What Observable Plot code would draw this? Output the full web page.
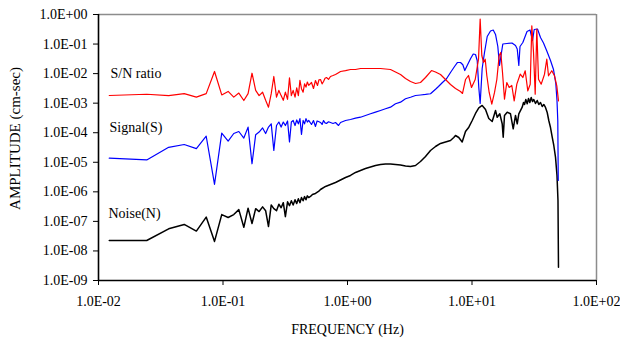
<!DOCTYPE html>
<html><head><meta charset="utf-8">
<script src="https://cdn.jsdelivr.net/npm/d3@7"></script>
<script src="https://cdn.jsdelivr.net/npm/@observablehq/plot@0.6"></script>
<style>
body{margin:0;background:#fff}
svg, svg text{font-family:"Liberation Serif","DejaVu Serif",serif !important;}
</style>
</head><body><div id="chart"></div>
<script>
// Low-frequency FFT grid (Hz)
const gridFreq = [0.0122,0.0244,0.0366,0.0488,0.0611,0.0733,0.0855,0.0977,0.110,0.122,0.134,0.147,0.159,0.171,0.183,0.195,0.208,0.220,0.232,0.244,0.256,0.269,0.281,0.293,0.305,0.317,0.330,0.342,0.354,0.366,0.379,0.391,0.403,0.415,0.427,0.440,0.452,0.464,0.476,0.488];
const snGrid = [1.82e-3,2.0e-3,1.8e-3,2.1e-3,1.6e-3,2.1e-3,1.18e-2,1.9e-3,2.5e-3,1.6e-3,2.2e-3,1.23e-3,2.1e-3,1.03e-2,2.7e-3,1.8e-3,2.35e-3,1.25e-3,7.3e-4,2.1e-3,8.0e-3,1.6e-3,2.7e-3,1.8e-3,1.25e-3,2.35e-3,1.35e-3,7.2e-3,1.8e-3,2.7e-3,1.6e-3,3.3e-3,1.8e-3,5.9e-3,3.1e-3,2.35e-3,4.5e-3,3.5e-3,5.2e-3,4.0e-3];
const sigGrid = [1.38e-5,1.2e-5,3.2e-5,4.0e-5,2.9e-5,7.6e-5,1.8e-6,9.7e-5,5.2e-5,9.4e-5,1.1e-4,6.6e-5,1.55e-4,8.9e-6,8.6e-5,1.05e-4,1.45e-4,9.4e-5,1.55e-4,2.0e-4,2.5e-5,1.75e-4,2.3e-4,1.55e-4,2.3e-4,1.75e-4,2.5e-4,4.9e-5,2.3e-4,2.6e-4,1.75e-4,2.7e-4,2.0e-4,3.0e-4,8.8e-5,2.6e-4,2.0e-4,3.0e-4,2.3e-4,2.6e-4];
const noiseGrid = [2.26e-8,2.26e-8,5.6e-8,7.9e-8,4.7e-8,1.4e-7,2.1e-8,1.7e-7,1.35e-7,1.7e-7,2.5e-7,6.3e-8,2.8e-7,8.5e-8,2.7e-7,2.15e-7,3.1e-7,2.3e-7,6.7e-8,3.6e-7,2.7e-7,2.3e-7,3.8e-7,2.9e-7,4.3e-7,1.45e-7,4.6e-7,3.4e-7,5.0e-7,3.6e-7,5.4e-7,4.0e-7,5.8e-7,4.3e-7,6.4e-7,5.0e-7,6.9e-7,5.4e-7,7.3e-7,6.4e-7];

// Higher-frequency part
const snTailFreq = [0.514,0.533,0.553,0.574,0.590,0.607,0.625,0.642,0.660,0.678,0.704,0.730,0.765,0.801,0.840,0.879,0.964,1.057,1.160,1.272,1.395,1.530,1.679,1.841,2.020,2.215,2.430,2.666,2.924,3.207,3.518,3.858,4.232,4.728,5.092,5.585,6.126,6.719,7.371,8.085,8.39,8.868,9.37,9.91,10.61,11.28,11.63,11.99,12.37,12.77,13.15,13.74,14.42,15.17,15.83,16.53,17.03,17.58,18.24,19.03,19.89,20.88,21.82,22.91,24.39,25.60,26.75,28.07,29.35,30.23,31.20,32.18,33.15,34.21,35.97,38.23,39.89,41.16,43.75,45.99,47.99,49.5];
const snTailAmp = [0.00501,0.00314,0.00585,0.00396,0.00620,0.00632,0.00450,0.00541,0.00700,0.00739,0.00640,0.00799,0.00860,0.00934,0.0105,0.0118,0.0127,0.0138,0.0138,0.0149,0.0149,0.0149,0.0149,0.0149,0.0143,0.0138,0.0113,0.00934,0.00684,0.00541,0.00463,0.00501,0.00739,0.0127,0.0113,0.00934,0.00632,0.00428,0.00314,0.00248,0.00213,0.00632,0.00864,0.00339,0.00632,0.0307,0.704,0.0410,0.0238,0.0307,0.00864,0.00230,0.000923,0.00230,0.00632,0.0410,0.0518,0.0109,0.00136,0.00501,0.00339,0.00396,0.00120,0.00439,0.00956,0.00739,0.0125,0.00262,0.00439,0.415,0.0518,0.00201,0.318,0.00648,0.00439,0.00956,0.0307,0.00844,0.0125,0.00844,0.00387,0.00120];

const sigTailFreq = [0.514,0.533,0.553,0.570,0.585,0.607,0.625,0.642,0.660,0.678,0.704,0.730,0.765,0.801,0.847,0.879,0.964,1.057,1.160,1.272,1.395,1.530,1.679,1.841,2.020,2.215,2.430,2.666,2.924,3.207,3.518,3.858,4.232,4.642,5.148,5.38,5.79,6.24,6.719,7.24,7.65,8.085,8.44,8.75,9.15,9.727,10.23,10.67,11.01,11.34,11.63,12.07,12.60,13.25,14.08,14.81,15.45,16.12,16.63,17.10,17.68,19.10,20.95,22.36,23.08,23.77,24.30,25.60,27.66,29.24,30.62,31.59,33.58,35.50,37.53,40.04,42.71,45.15,47.11,48.16,48.87,49.3];
const sigTailAmp = [0.000190,0.000259,0.000163,0.000250,0.000240,0.000222,0.000190,0.000259,0.000215,0.000205,0.000235,0.000222,0.000205,0.000222,0.000176,0.000222,0.000259,0.000280,0.000310,0.000335,0.000383,0.000437,0.000495,0.000565,0.000645,0.000731,0.000953,0.00108,0.00141,0.00159,0.00182,0.00189,0.00197,0.00208,0.00307,0.00367,0.00501,0.00668,0.0109,0.0174,0.0238,0.0238,0.0199,0.0127,0.0188,0.0317,0.0461,0.0443,0.0278,0.00339,0.000976,0.0149,0.0518,0.180,0.277,0.299,0.211,0.0827,0.0188,0.0410,0.1005,0.1045,0.1086,0.0894,0.0681,0.0188,0.0827,0.113,0.266,0.299,0.132,0.311,0.323,0.1667,0.1086,0.0560,0.0278,0.0138,0.00463,0.00123,0.000259,2.42e-6];

const noiseTailFreq = [0.504,0.523,0.553,0.585,0.607,0.666,0.730,0.801,0.879,0.964,1.057,1.160,1.272,1.395,1.530,1.679,1.841,2.020,2.215,2.430,2.666,2.924,3.207,3.518,3.858,4.232,4.642,5.092,5.585,6.126,6.719,7.14,7.371,7.83,8.34,8.868,9.43,10.04,10.67,11.34,12.07,12.84,13.64,14.53,15.45,15.94,16.72,17.48,17.81,18.24,19.17,20.38,21.43,22.36,23.08,23.77,25.31,25.93,26.41,27.05,27.76,28.44,29.13,29.90,30.62,31.36,32.36,33.40,34.40,35.50,36.64,37.73,38.94,40.19,41.38,42.71,44.08,45.39,46.85,48.16,49.05,49.5];
const noiseTailAmp = [6.97e-7,8.14e-7,8.80e-7,1.03e-6,1.20e-6,1.52e-6,1.77e-6,2.07e-6,2.52e-6,3.06e-6,3.58e-6,4.52e-6,5.28e-6,6.17e-6,6.93e-6,7.79e-6,8.43e-6,8.76e-6,8.76e-6,8.43e-6,8.10e-6,7.49e-6,7.21e-6,7.79e-6,1.06e-5,1.57e-5,2.51e-5,3.42e-5,4.33e-5,4.86e-5,5.46e-5,6.90e-5,8.06e-5,6.90e-5,4.86e-5,1.10e-4,1.54e-4,2.59e-4,4.48e-4,6.98e-4,8.35e-4,6.11e-4,3.03e-4,2.40e-4,5.65e-4,3.35e-4,4.37e-4,2.01e-4,7.07e-5,3.83e-4,4.95e-4,4.37e-4,1.36e-4,3.83e-4,2.01e-4,4.37e-4,7.31e-4,1.05e-3,9.02e-4,1.33e-3,9.53e-4,1.44e-3,1.05e-3,1.56e-3,1.14e-3,1.33e-3,9.76e-4,1.23e-3,9.02e-4,1.05e-3,7.72e-4,9.02e-4,7.14e-4,4.84e-4,2.59e-4,1.50e-4,7.07e-5,3.70e-5,1.49e-5,3.58e-6,5.10e-7,2.83e-9];

const xTicks = [0.01, 0.1, 1, 10, 100];
const yTicks = [1e-9, 1e-8, 1e-7, 1e-6, 1e-5, 1e-4, 1e-3, 1e-2, 1e-1, 1];
const seriesLabels = ["S/N ratio", "Signal(S)", "Noise(N)"];
const labelFreq = [0.01248, 0.01226, 0.01203];
const labelAmp = [1.03e-2, 1.5e-4, 1.9e-7];
const xTitle = "FREQUENCY (Hz)";
const yTitle = "AMPLITUDE (cm-sec)";

const rows = (f, a) => f.map((x, i) => ({f: x, a: a[i]}));
const sn = rows(gridFreq.concat(snTailFreq), snGrid.concat(snTailAmp));
const sig = rows(gridFreq.concat(sigTailFreq), sigGrid.concat(sigTailAmp));
const noise = rows(gridFreq.concat(noiseTailFreq), noiseGrid.concat(noiseTailAmp));
const labels = seriesLabels.map((t, i) => ({t, f: labelFreq[i], a: labelAmp[i]}));

const fmt = d => {
  const e = Math.round(Math.log10(d));
  return "1.0E" + (e < 0 ? "-" : "+") + String(Math.abs(e)).padStart(2, "0");
};
const serif = "Liberation Serif, DejaVu Serif, serif";

const chart = Plot.plot({
  width: 620, height: 344,
  marginLeft: 98, marginRight: 24, marginTop: 14, marginBottom: 64,
  style: {fontFamily: serif, fontSize: "14px", background: "#fff", color: "#000"},
  x: {type: "log", domain: [0.01, 100]},
  y: {type: "log", domain: [1e-9, 1]},
  marks: [
    Plot.axisX({ticks: xTicks, tickFormat: fmt, tickSize: 5, tickPadding: 11, label: null, fontSize: 14, fontFamily: serif}),
    Plot.axisY({ticks: yTicks, tickFormat: fmt, tickSize: 5, tickPadding: 6, label: null, fontSize: 14, fontFamily: serif}),
    Plot.ruleY([1], {stroke: "#8c8c8c", strokeWidth: 1.5}),
    Plot.ruleX([100], {stroke: "#8c8c8c", strokeWidth: 1.5}),
    Plot.ruleX([0.01], {stroke: "#000", strokeWidth: 1.6}),
    Plot.ruleY([1e-9], {stroke: "#000", strokeWidth: 1.6}),
    Plot.line(noise, {x: "f", y: "a", stroke: "#000", strokeWidth: 1.5}),
    Plot.line(sig, {x: "f", y: "a", stroke: "#0000ff", strokeWidth: 1.2}),
    Plot.line(sn, {x: "f", y: "a", stroke: "#ff0000", strokeWidth: 1.2}),
    Plot.text(labels, {x: "f", y: "a", text: "t", textAnchor: "start", fontSize: 14, fontFamily: serif, fill: "#000"}),
    Plot.text([yTitle], {text: d => d, frameAnchor: "left", textAnchor: "middle", rotate: -90, dx: -83, dy: -9, fontSize: 15, fontFamily: serif, fill: "#000"}),
    Plot.text([xTitle], {text: d => d, frameAnchor: "bottom", textAnchor: "middle", dy: 53, fontSize: 14, fontFamily: serif, fill: "#000"})
  ]
});
document.getElementById("chart").appendChild(chart);
</script>
</body></html>
